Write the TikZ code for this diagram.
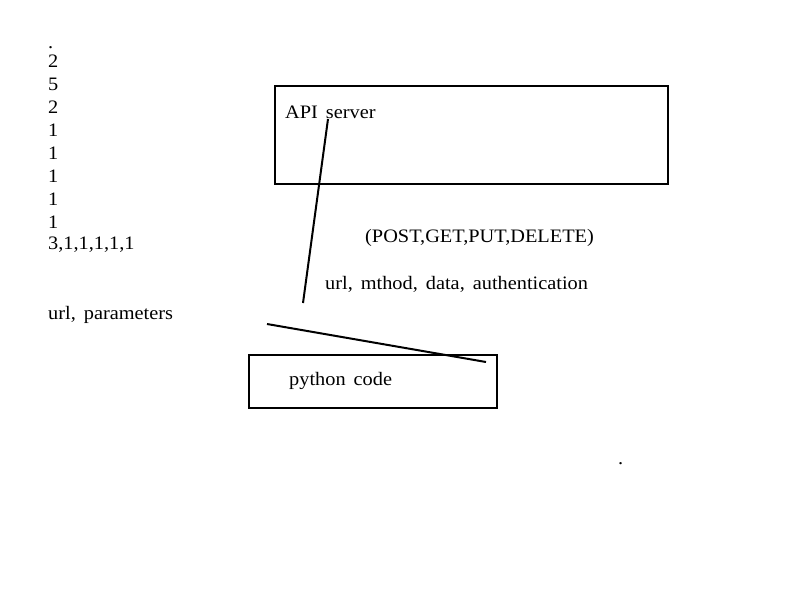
\documentclass[tikz,border=0pt]{standalone}
\usepackage{fontspec}
\setmainfont[FakeStretch=1.07]{Liberation Serif}
\usetikzlibrary{positioning,calc}

\begin{document}
\begin{tikzpicture}[x=1pt,y=-1pt,
		txt/.style={anchor=west,inner sep=0pt,font=\fontsize{19}{22}\selectfont},
		box/.style={draw,line width=2pt,inner sep=0pt},
		wire/.style={line width=2pt}]
				\useasboundingbox (0,0) rectangle (800,600);
				\node[txt] (dot) at (48, 48) {.};
				\foreach \v [count=\i] in {2,5,2,1,1,1,1,1}
					\node[txt] (n\i) at (48, 38+23*\i) {\v};
				\node[txt] (seq) at (48, 245) {3,1,1,1,1,1};
				\node[txt] (urlp) at (48, 315) {url,\hspace{8pt}parameters};
				\node[box,minimum width=393pt,minimum height=98pt] (api) at (471.5, 135) {};
				\node[txt] (apitxt) at (285, 112) {API\hspace{8pt}server};
				\node[txt] (verbs) at (365, 238) {(POST,GET,PUT,DELETE)};
				\node[txt] (args) at (325, 284) {url,\hspace{8pt}mthod,\hspace{8pt}data,\hspace{8pt}authentication};
				\node[box,minimum width=248pt,minimum height=53pt] (py) at (373, 381.5) {};
				\node[txt] (pytxt) at (289, 381) {python\hspace{8pt}code};
				\node[txt] (mark) at (618, 464) {.};
				\coordinate (s1) at (328, 119);
				\coordinate (e1) at (303, 303);
				\coordinate (s2) at (267, 324);
				\coordinate (e2) at (486, 362);
				\draw[wire] (s1) -- (e1);
				\draw[wire] (s2) -- (e2);
				\end{tikzpicture}
\end{document}
